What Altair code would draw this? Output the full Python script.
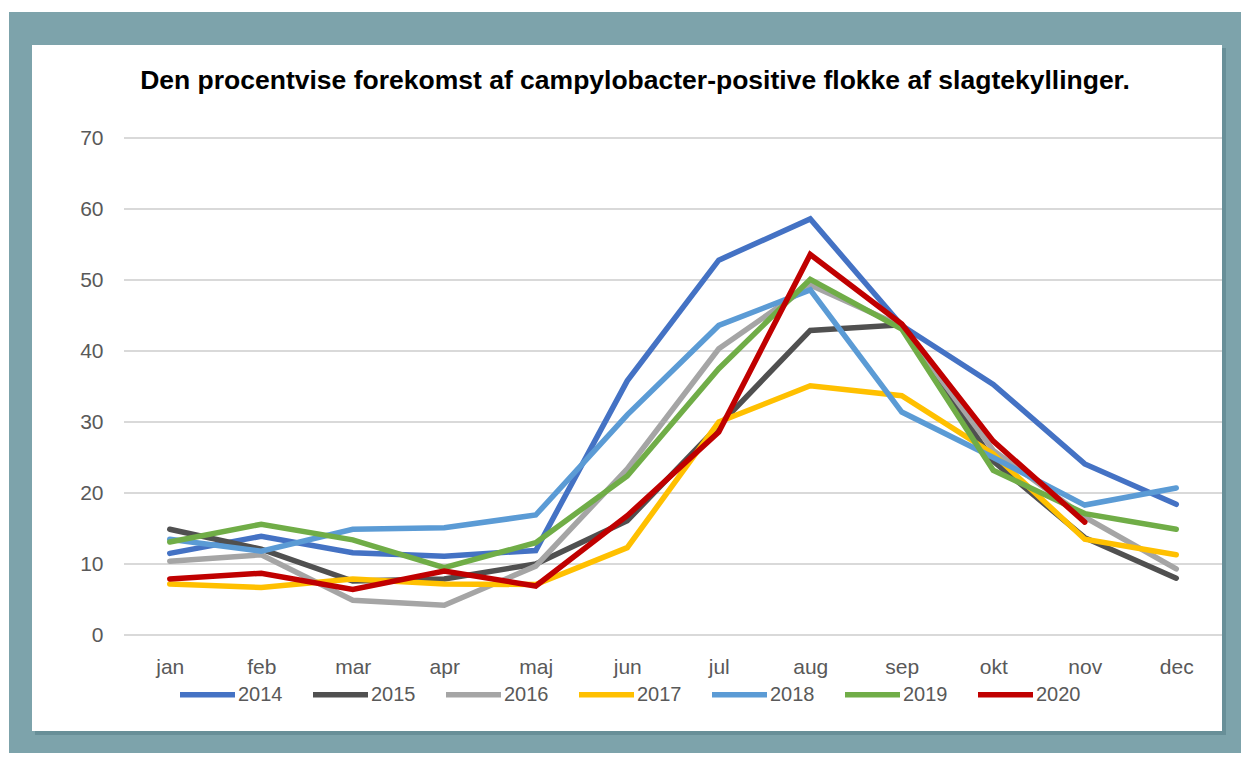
import altair as alt
import pandas as pd

# ---------------- data ----------------
months = ["jan", "feb", "mar", "apr", "maj", "jun", "jul", "aug", "sep", "okt", "nov", "dec"]
years = ["2014", "2015", "2016", "2017", "2018", "2019", "2020"]

v2014 = [11.5, 13.9, 11.6, 11.1, 11.9, 35.8, 52.8, 58.6, 43.6, 35.3, 24.1, 18.4]
v2015 = [14.9, 12.1, 7.6, 7.9, 10.0, 16.1, 29.5, 42.9, 43.7, 24.5, 13.7, 8.0]
v2016 = [10.4, 11.3, 4.9, 4.2, 9.7, 23.4, 40.3, 49.3, 43.5, 26.0, 16.6, 9.3]
v2017 = [7.2, 6.7, 7.9, 7.2, 7.1, 12.3, 30.0, 35.1, 33.7, 25.5, 13.5, 11.3]
v2018 = [13.5, 11.8, 14.9, 15.1, 16.9, 31.0, 43.6, 48.6, 31.4, 25.0, 18.3, 20.7]
v2019 = [13.1, 15.6, 13.4, 9.5, 13.0, 22.4, 37.5, 50.1, 43.1, 23.2, 17.1, 14.9]
v2020 = [7.9, 8.7, 6.4, 9.0, 6.9, 16.8, 28.6, 53.6, 43.8, 27.3, 15.9, None]

series = [v2014, v2015, v2016, v2017, v2018, v2019, v2020]
colors = ["#4472C4", "#505050", "#A5A5A5", "#FFC000", "#5B9BD5", "#70AD47", "#C00000"]
yticks = [0, 10, 20, 30, 40, 50, 60, 70]

title_text = "Den procentvise forekomst af campylobacter-positive flokke af slagtekyllinger."

rows = []
for yr, vals in zip(years, series):
    for m, v in zip(months, vals):
        if v is not None:
            rows.append({"month": m, "year": yr, "value": v})
df = pd.DataFrame(rows)
grid_df = pd.DataFrame({"v": yticks})
dummy = pd.DataFrame({"d": [0]})

# ---------------- layout ----------------
W, H = 1098, 497
FONT = "Liberation Sans"
LABEL_COLOR = "#595959"

y_axis = alt.Axis(values=yticks, grid=False, domain=False, ticks=False,
                  labelPadding=21, labelFontSize=21, labelFont=FONT,
                  labelColor=LABEL_COLOR, title=None, zindex=1)
y_scale = alt.Scale(domain=[0, 70], nice=False, zero=True)

# decorative frame
teal = alt.Chart(dummy).mark_rect(color="#7DA3AB").encode(
    x=alt.value(-115), x2=alt.value(1117), y=alt.value(-126), y2=alt.value(615))
panel_shadow = alt.Chart(dummy).mark_rect(color="#4F7880", opacity=0.45).encode(
    x=alt.value(-89), x2=alt.value(1102), y=alt.value(-90), y2=alt.value(597))
panel = alt.Chart(dummy).mark_rect(color="#FFFFFF").encode(
    x=alt.value(-92), x2=alt.value(1098), y=alt.value(-93), y2=alt.value(593))

grid = alt.Chart(grid_df).mark_rule(color="#D9D9D9", strokeWidth=2).encode(
    y=alt.Y("v:Q", scale=y_scale, axis=y_axis))

lines = alt.Chart(df).mark_line(strokeWidth=5.5, strokeCap="round").encode(
    x=alt.X("month:N", sort=months,
            scale=alt.Scale(type="point", padding=0.5),
            axis=alt.Axis(labelAngle=0, domain=False, ticks=False, grid=False,
                          labelPadding=21, labelFontSize=21, labelFont=FONT,
                          labelColor=LABEL_COLOR, title=None, zindex=1)),
    y=alt.Y("value:Q", scale=y_scale, axis=y_axis),
    color=alt.Color("year:N", sort=years,
                    scale=alt.Scale(domain=years, range=colors),
                    legend=alt.Legend(orient="none", legendX=53, legendY=526,
                                      direction="horizontal", title=None,
                                      symbolType="stroke", symbolSize=3025,
                                      symbolStrokeWidth=5.5, labelFontSize=20,
                                      labelFont=FONT, labelColor=LABEL_COLOR,
                                      labelOffset=0, columnPadding=19, padding=0)),
    order=alt.Order("month_order:Q"),
).transform_calculate(
    month_order="indexof(" + str(months) + ", datum.month)"
)

title = alt.Chart(dummy).mark_text(
    text=title_text, font=FONT, fontSize=26.5, fontWeight="bold",
    color="#000000", align="center", baseline="alphabetic").encode(
    x=alt.value(511), y=alt.value(-49))

chart = alt.layer(teal, panel_shadow, panel, grid, lines, title).properties(
    width=W, height=H,
    autosize=alt.AutoSizeParams(type="none"),
    padding={"left": 116, "top": 130, "right": 19, "bottom": 118},
    background="#FFFFFF",
).configure_view(stroke=None)

chart.save("out.html", embed_options={"renderer": "svg", "actions": False})
